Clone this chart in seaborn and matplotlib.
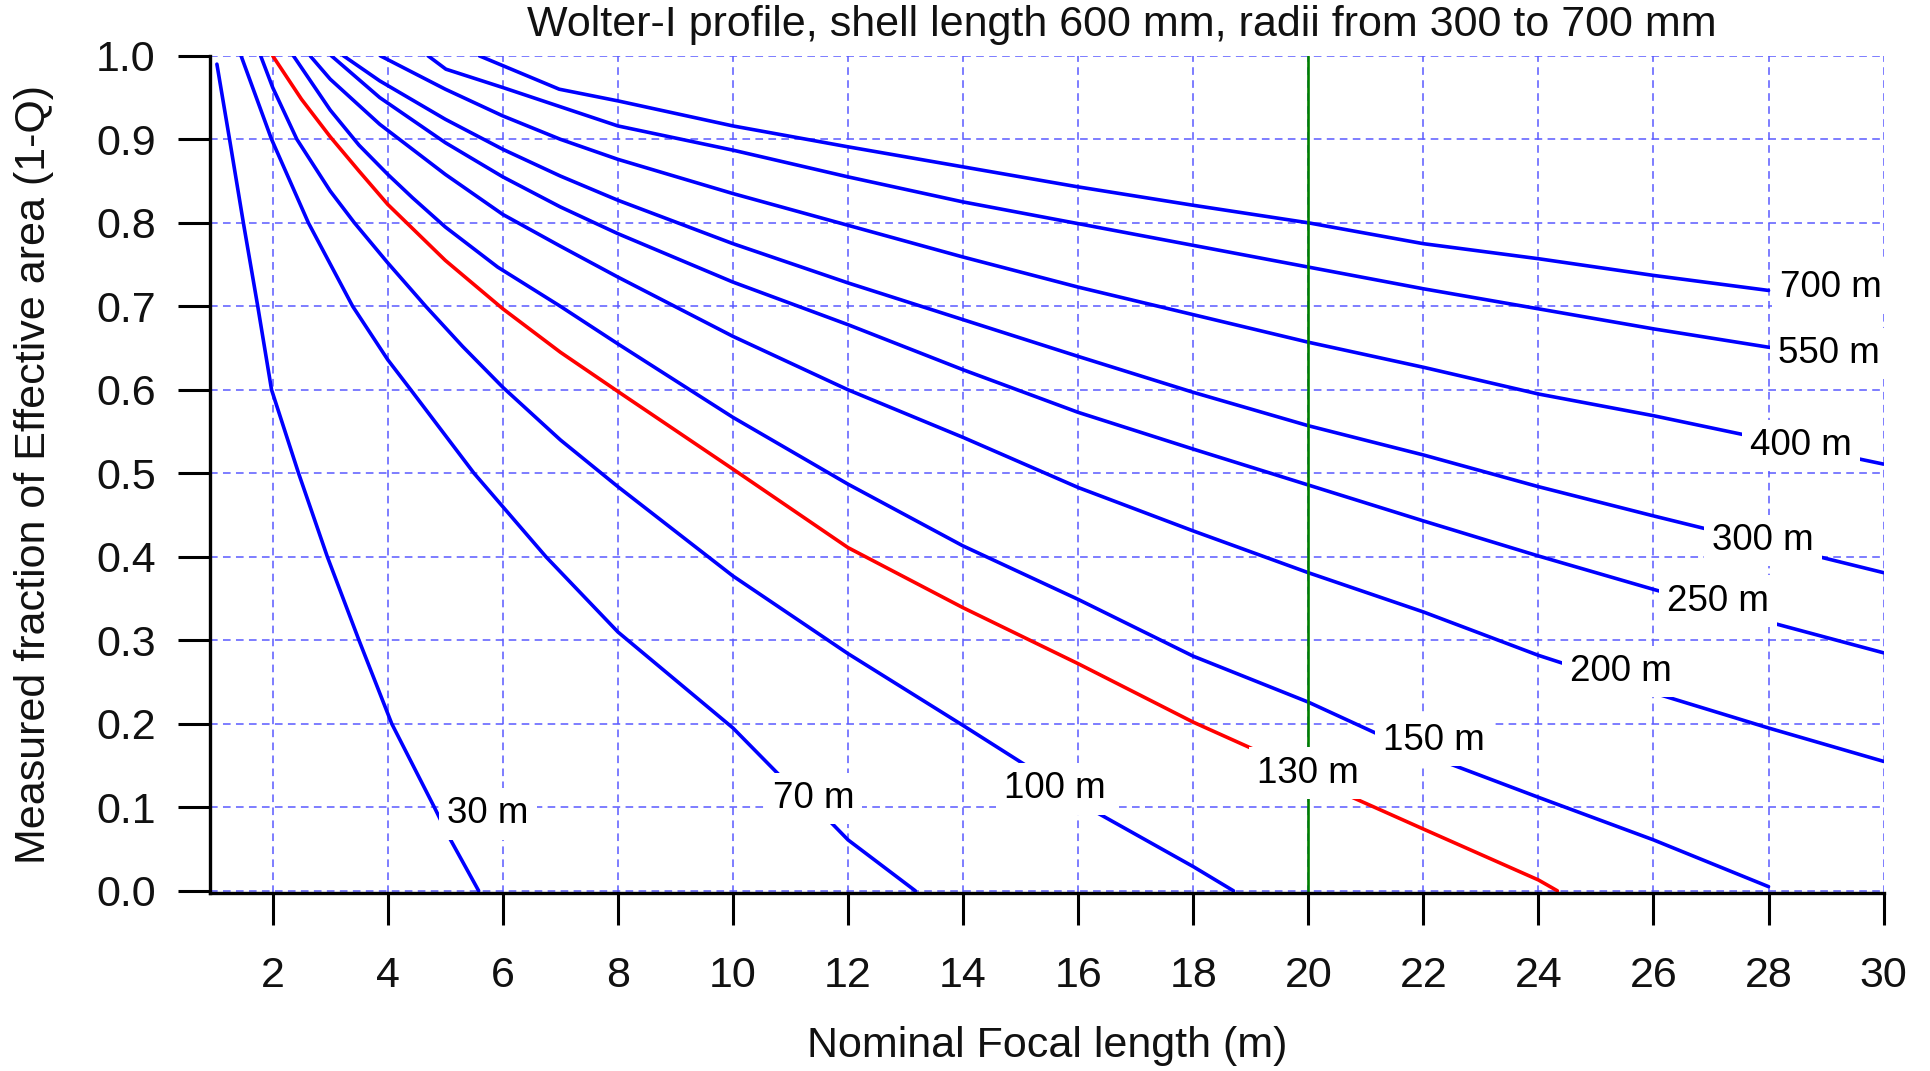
import numpy as np
import pandas as pd
import matplotlib
matplotlib.use("Agg")
import matplotlib.pyplot as plt
import seaborn as sns

# Contour lines: nominal focal length (m) vs measured fraction of effective area,
# one line per radius of curvature.
radii = [30, 70, 100, 130, 150, 200, 250, 300, 400, 550, 700]

focal_30 = [1.03, 1.25, 1.49, 1.74, 1.98, 2.45, 2.95, 3.50, 4.07, 4.81, 5.06, 5.58]
frac_30 = [0.99, 0.90, 0.80, 0.70, 0.60, 0.50, 0.40, 0.30, 0.20, 0.10, 0.065, 0.0]

focal_70 = [1.45, 1.98, 2.62, 3.39, 4.0, 4.4, 5.5, 6.75, 8.0, 10.0, 10.8, 11.66, 12.0, 13.17]
frac_70 = [1.0, 0.90, 0.80, 0.70, 0.636, 0.60, 0.50, 0.40, 0.31, 0.195, 0.139, 0.085, 0.061, 0.0]

focal_100 = [1.79, 2.0, 2.42, 3.0, 3.42, 4.0, 4.66, 5.3, 6.0, 7.0, 8.0, 10.0, 12.0, 14.0,
             15.12, 16.29, 18.0, 18.7]
frac_100 = [1.0, 0.962, 0.90, 0.838, 0.80, 0.752, 0.70, 0.652, 0.603, 0.54, 0.484, 0.377,
            0.284, 0.198, 0.149, 0.095, 0.029, 0.0]

focal_130 = [2.0, 2.5, 3.0, 3.5, 4.0, 5.0, 6.0, 7.0, 8.0, 10.0, 12.0, 14.0, 16.0, 18.0,
             19.13, 20.73, 22.0, 24.0, 24.33]
frac_130 = [1.0, 0.948, 0.903, 0.862, 0.822, 0.755, 0.697, 0.645, 0.598, 0.505, 0.411,
            0.339, 0.272, 0.202, 0.167, 0.113, 0.074, 0.013, 0.0]

focal_150 = [2.36, 3.0, 3.5, 4.0, 4.43, 5.0, 5.91, 7.0, 8.0, 10.0, 12.0, 14.0, 16.0, 18.0,
             20.0, 21.2, 22.5, 24.0, 26.0, 28.0]
frac_150 = [1.0, 0.935, 0.893, 0.858, 0.830, 0.795, 0.747, 0.700, 0.655, 0.567, 0.487,
            0.413, 0.349, 0.281, 0.226, 0.188, 0.151, 0.112, 0.061, 0.005]

focal_200 = [2.65, 3.0, 3.86, 5.0, 6.0, 7.0, 8.0, 10.0, 12.0, 14.0, 16.0, 18.0, 20.0, 22.0,
             24.0, 26.1, 28.0, 30.0]
frac_200 = [1.0, 0.972, 0.918, 0.858, 0.81, 0.772, 0.735, 0.664, 0.600, 0.543, 0.483,
            0.431, 0.381, 0.334, 0.282, 0.235, 0.195, 0.155]

focal_250 = [3.02, 3.86, 5.0, 6.0, 7.0, 8.0, 10.0, 12.0, 14.0, 16.0, 18.0, 20.0, 22.0, 24.0,
             26.0, 28.0, 30.0]
frac_250 = [1.0, 0.95, 0.896, 0.855, 0.819, 0.787, 0.729, 0.678, 0.624, 0.573, 0.529, 0.486,
            0.443, 0.401, 0.361, 0.322, 0.285]

focal_300 = [3.23, 3.86, 5.0, 6.0, 7.0, 8.0, 10.0, 12.0, 14.0, 16.0, 18.0, 20.0, 22.0, 24.0,
             26.0, 28.0, 30.0]
frac_300 = [1.0, 0.97, 0.924, 0.888, 0.856, 0.827, 0.775, 0.728, 0.684, 0.640, 0.597, 0.557,
            0.522, 0.484, 0.449, 0.415, 0.381]

focal_400 = [3.87, 5.0, 6.0, 7.0, 8.0, 10.0, 12.0, 14.0, 16.0, 18.0, 20.0, 22.0, 24.0, 26.0,
             28.0, 30.0]
frac_400 = [1.0, 0.96, 0.928, 0.90, 0.876, 0.835, 0.797, 0.759, 0.723, 0.690, 0.657, 0.627,
            0.595, 0.569, 0.540, 0.511]

focal_550 = [4.70, 5.01, 6.0, 8.0, 10.0, 12.0, 14.0, 16.0, 18.0, 20.0, 22.0, 24.0, 26.0,
             28.0, 30.0]
frac_550 = [1.0, 0.984, 0.962, 0.916, 0.887, 0.855, 0.825, 0.799, 0.773, 0.747, 0.721,
            0.697, 0.673, 0.651, 0.632]

focal_700 = [5.59, 6.98, 8.0, 10.0, 12.0, 14.0, 16.0, 18.0, 20.0, 22.0, 24.0, 26.0, 28.0]
frac_700 = [1.0, 0.96, 0.946, 0.916, 0.891, 0.867, 0.843, 0.821, 0.800, 0.775, 0.757,
            0.737, 0.719]

focal_lines = [focal_30, focal_70, focal_100, focal_130, focal_150, focal_200,
               focal_250, focal_300, focal_400, focal_550, focal_700]
frac_lines = [frac_30, frac_70, frac_100, frac_130, frac_150, frac_200,
              frac_250, frac_300, frac_400, frac_550, frac_700]

# Inline contour label anchors (focal length, fraction)
label_x = [5.74, 11.40, 15.60, 20.0, 22.19, 25.43, 27.12, 27.90, 28.57, 29.05, 29.09]
label_y = [0.092, 0.111, 0.122, 0.141, 0.180, 0.263, 0.347, 0.420, 0.533, 0.643, 0.723]

marked_focal = 20
x_ticks = list(range(2, 31, 2))
y_ticks = [round(0.1 * i, 1) for i in range(11)]

title = "Wolter-I profile, shell length 600 mm, radii from 300 to 700 mm"
x_title = "Nominal Focal length (m)"
y_title = "Measured fraction of Effective area (1-Q)"

frames = []
for r, fx, fy in zip(radii, focal_lines, frac_lines):
    frames.append(pd.DataFrame({"focal": fx, "fraction": fy, "radius": f"{r} m"}))
df = pd.concat(frames, ignore_index=True)

sns.set_theme(style="white")
plt.rcParams["font.family"] = ["Liberation Sans", "DejaVu Sans"]

fig = plt.figure(figsize=(19.31, 10.71), dpi=100)
ax = fig.add_axes([0.10875, 0.1659, 0.8667, 0.782])

palette = {f"{r} m": ("#ff0000" if r == 130 else "#0000ff") for r in radii}
sns.lineplot(data=df, x="focal", y="fraction", hue="radius", units="radius",
             estimator=None, sort=False, palette=palette, linewidth=2.6,
             legend=False, ax=ax, zorder=2)

ax.axvline(marked_focal, ymin=0, ymax=1, color="#008000", linewidth=1.9, zorder=2.5)

for r, lx, ly in zip(radii, label_x, label_y):
    ax.text(lx, ly, f"{r} m", fontsize=26.5, ha="center", va="center",
            color="black", zorder=4, clip_on=False,
            bbox=dict(boxstyle="square,pad=0.22", fc="white", ec="none"))

ax.set_xlim(0.91, 30)
ax.set_ylim(-0.003, 1.0)
ax.set_xticks(x_ticks)
ax.set_yticks(y_ticks)
ax.set_yticklabels([f"{v:.1f}" for v in y_ticks])

ax.grid(True, color="#5a5aff", linestyle=(0, (5, 3.5)), linewidth=1.1, zorder=1)
ax.set_axisbelow(True)

for side in ["top", "right"]:
    ax.spines[side].set_visible(False)
for side in ["left", "bottom"]:
    ax.spines[side].set_color("black")
    ax.spines[side].set_linewidth(2.4)

ax.tick_params(axis="both", which="major", direction="out", length=23, width=2.2,
               color="black", labelsize=31, labelcolor="#111111",
               bottom=True, left=True)
ax.tick_params(axis="x", pad=22)
ax.tick_params(axis="y", pad=16)

ax.set_xlabel(x_title, fontsize=31, color="#111111", labelpad=22)
ax.set_ylabel(y_title, fontsize=31, color="#111111")
ax.yaxis.set_label_coords(-0.093, 0.5)
fig.text(0.581, 0.977, title, fontsize=31, ha="center", va="center", color="#111111")

fig.savefig("out.png", dpi=100, facecolor="white")
